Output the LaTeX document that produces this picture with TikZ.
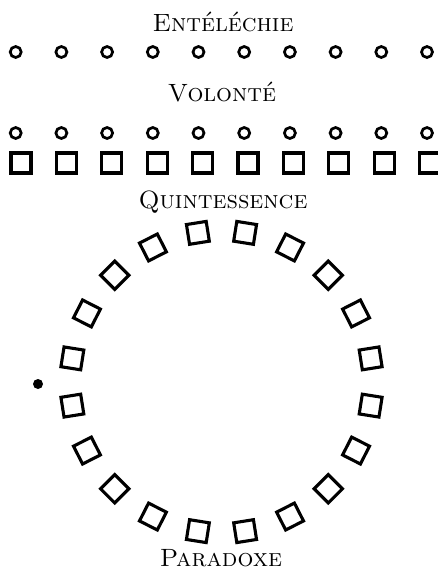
\documentclass[tikz,border=0pt]{standalone}
\usetikzlibrary{shapes.geometric,calc}
\begin{document}
\begin{tikzpicture}[x=1pt,y=-1pt,
  ttl/.style={font=\fontsize{25}{28}\selectfont\scshape, anchor=base, inner sep=0pt},
  ring/.style={draw, circle, line width=2.7pt, minimum size=11pt, inner sep=0pt},
  sq/.style={draw, rectangle, line width=3.1pt, minimum size=20pt, inner sep=0pt},
  dot/.style={fill, circle, minimum size=10pt, inner sep=0pt}]
\useasboundingbox (0,0) rectangle (437,576);
\node[ttl] (ent) at (223,31) {Entéléchie};
\node[ttl] (vol) at (222,101) {Volonté};
\node[ttl] (qui) at (223,208) {Quintessence};
\node[ttl] (par) at (221,566) {Paradoxe};
\foreach \i in {0,...,9} {
  \node[ring] (a\i) at (15.7+45.7*\i,52) {};
  \node[ring] (b\i) at (15.7+45.7*\i,133) {};
  \node[sq] (s\i) at (21+45.4*\i,163) {};
}
\coordinate (c) at (221.5,382);
\foreach \k in {0,...,19} {
  \pgfmathsetmacro{\ang}{9+18*\k}
  \node[sq, rotate=\ang] (r\k) at ($(c)+(-\ang:151)$) {};
}
\node[dot] (d) at (38,384) {};
\end{tikzpicture}
\end{document}
